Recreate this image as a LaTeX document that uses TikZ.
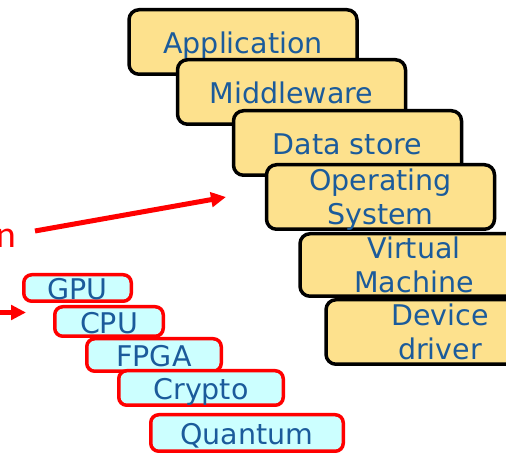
\documentclass[tikz,border=0pt]{standalone}
\usepackage{fontspec}
\setmainfont{DejaVu Sans}
\newfontfamily\redfont{Carlito}
\usepackage{tikz}
\usetikzlibrary{arrows.meta}
\definecolor{layerfill}{HTML}{FDE18D}
\definecolor{hwfill}{HTML}{CCFFFF}
\definecolor{textblue}{HTML}{1B5B9B}
\tikzset{
  layer/.style={draw=black, line width=3.5pt, fill=layerfill, rounded corners=10pt,
    minimum width=228pt, minimum height=64.5pt, inner sep=0pt, text=textblue,
    align=center, text depth=0pt},
  oneline/.style={text height=23pt},
  hw/.style={draw=red, line width=3.5pt, fill=hwfill, rounded corners=8pt,
    inner sep=0pt, text=textblue, text height=23.5pt, text depth=0pt},
  redarrow/.style={draw=red, line width=5pt, -{Triangle[length=15pt,width=14.5pt]}}
}
\begin{document}
\begin{tikzpicture}[x=1pt,y=1pt,font=\fontsize{28.5}{34}\selectfont]
\useasboundingbox (0,0) rectangle (506,454);
\node[layer,oneline] (app) at (243,412) {Application};
\node[layer,oneline] (mid) at (291.5,362) {Middleware};
\node[layer,oneline] (data) at (347.5,311) {Data store};
\node[layer] (os) at (380.5,257) {Operating\\System};
\node[layer,minimum height=62.5pt] (vm) at (414,189) {Virtual\\Machine};
\node[layer] (dev) at (440,122) {Device\\driver};

\node[hw,minimum width=107.5pt,minimum height=26.5pt] (gpu) at (77.5,166) {GPU};
\node[hw,minimum width=108.5pt,minimum height=29.5pt] (cpu) at (109,132.5) {CPU};
\node[hw,minimum width=134.5pt,minimum height=32.5pt] (fpga) at (154,99) {FPGA};
\node[hw,minimum width=164.5pt,minimum height=34.5pt] (crypto) at (201,66) {Crypto};
\node[hw,minimum width=192.5pt,minimum height=36.5pt] (quantum) at (247,21) {Quantum};

\node[anchor=base east, inner sep=0pt, text=red, font=\redfont\fontsize{38}{38}\selectfont] (cut) at (16,206) {n};
\coordinate (longtail) at (35,223);
\coordinate (longtip) at (226,257);
\coordinate (shorttail) at (-5,141.5);
\coordinate (shorttip) at (26,141.5);
\draw[redarrow] (longtail) -- (longtip);
\draw[redarrow] (shorttail) -- (shorttip);
\end{tikzpicture}
\end{document}
